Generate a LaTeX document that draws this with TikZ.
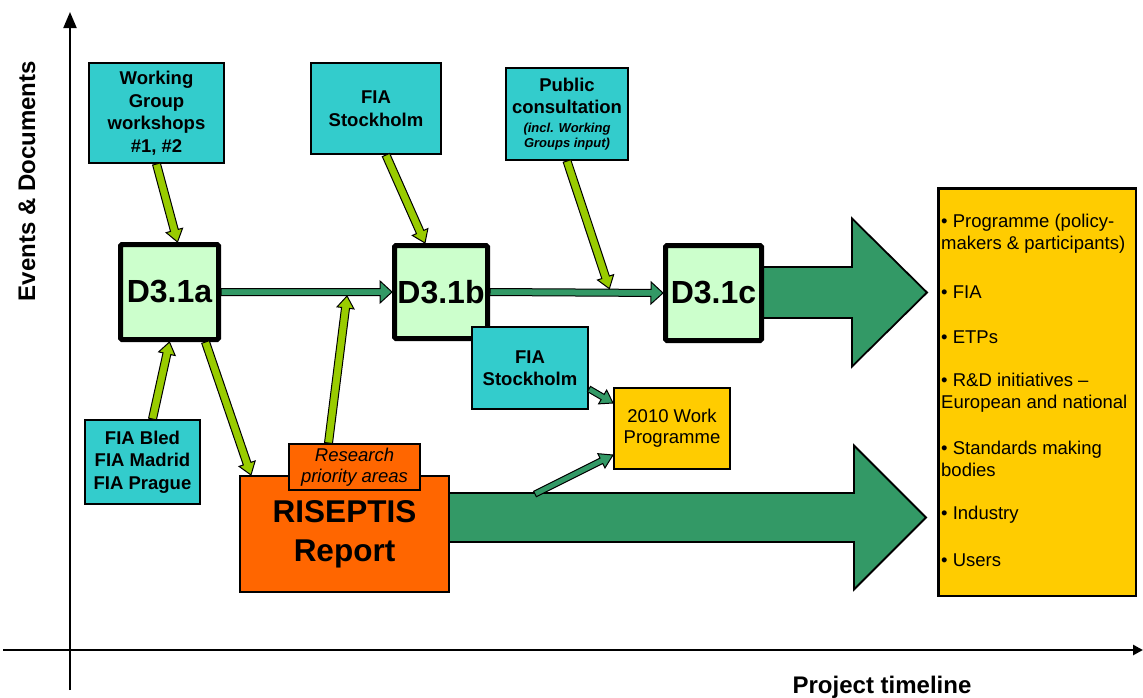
\documentclass[tikz,border=0pt]{standalone}
\usepackage{fontspec}
\setmainfont{Liberation Sans}
\usetikzlibrary{arrows.meta,calc}
\definecolor{cyanc}{HTML}{33CCCC}
\definecolor{lgreen}{HTML}{CCFFCC}
\definecolor{tealc}{HTML}{339966}
\definecolor{limec}{HTML}{99CC00}
\definecolor{orangec}{HTML}{FF6600}
\definecolor{yellowc}{HTML}{FFCC00}
\pgfdeclarelayer{bg}
\pgfsetlayers{bg,main}
% #1 style, #2 start, #3 end, #4 shaft half width, #5 head half width, #6 head length
\newcommand{\blockarrow}[6]{%
  \path (#2); \pgfgetlastxy{\bax}{\bay}%
  \path (#3); \pgfgetlastxy{\bbx}{\bby}%
  \pgfmathsetmacro{\baang}{atan2(\bby-\bay,\bbx-\bax)}%
  \pgfmathsetmacro{\balen}{veclen(\bbx-\bax,\bby-\bay)}%
  \draw[#1, shift={(\bax,\bay)}, rotate=\baang]
    (0pt,-#4pt) -- ({\balen pt-#6pt},-#4pt) -- ({\balen pt-#6pt},-#5pt)
    -- (\balen pt,0pt) -- ({\balen pt-#6pt},#5pt) -- ({\balen pt-#6pt},#4pt)
    -- (0pt,#4pt) -- cycle;
}
\tikzset{
  cyanbox/.style={draw=black, line width=2pt, fill=cyanc, align=center, inner sep=0pt,
    font=\fontsize{18.5}{22.5}\selectfont\bfseries},
  dbox/.style={draw=black, line width=5pt, fill=lgreen, inner sep=0pt, rounded corners=1.5pt,
    font=\fontsize{32}{36}\selectfont\bfseries},
  ybox/.style={draw=black, line width=2pt, fill=yellowc, align=center, inner sep=0pt,
    font=\fontsize{18.5}{21}\selectfont},
  obox/.style={draw=black, line width=2pt, fill=orangec, align=center, inner sep=0pt},
  limearrow/.style={draw=black, line width=1pt, fill=limec},
  tealarrow/.style={draw=black, line width=1pt, fill=tealc},
  bigarrow/.style={draw=black, line width=1.8pt, fill=tealc},
  item/.style={anchor=west, align=left, inner sep=0pt, font=\fontsize{18.5}{22}\selectfont},
  axislabel/.style={font=\fontsize{24}{28}\selectfont\bfseries, inner sep=0pt},
}
\begin{document}
\begin{tikzpicture}[x=1pt,y=-1pt]
\begin{pgfonlayer}{bg}
\fill[white] (0,0) rectangle (1143,697);
\end{pgfonlayer}
\useasboundingbox (0,0) rectangle (1143,697);

% axes
\coordinate (yb) at (70,690);
\coordinate (yt) at (70,12);
\coordinate (xl) at (3,650);
\coordinate (xr) at (1143,650);
\draw[line width=2pt, -{Triangle[length=16pt,width=13pt]}] (yb) -- (yt);
\draw[line width=2.5pt, -{Triangle[length=10pt,width=10pt]}] (xl) -- (xr);
\node[axislabel, rotate=90] (ylab) at (27,181) {Events \& Documents};
\node[axislabel, anchor=base] (xlab) at (882,693) {Project timeline};

% boxes
\node[cyanbox, minimum width=135pt, minimum height=100pt] (wg) at (156.5,113) {Working\\Group\\workshops\\\#1, \#2};
\node[cyanbox, minimum width=130pt, minimum height=91pt] (fs1) at (376,108.5) {FIA\\Stockholm};
\node[cyanbox, minimum width=122pt, minimum height=92pt] (pc) at (567,114)
  {Public\\consultation\\[-4pt]\fontsize{13}{15}\selectfont\bfseries\itshape (incl. Working\\[-7pt]\fontsize{13}{15}\selectfont\bfseries\itshape Groups input)};
\node[dbox, minimum width=98pt, minimum height=95pt] (d1) at (169.5,292) {D3.1a};
\node[dbox, minimum width=93pt, minimum height=93pt] (d2) at (441,292) {D3.1b};
\node[dbox, minimum width=96pt, minimum height=95pt] (d3) at (713.5,293) {D3.1c};
\node[cyanbox, minimum width=116pt, minimum height=82pt] (fs2) at (530,368) {FIA\\Stockholm};
\node[ybox, minimum width=116pt, minimum height=81pt] (wp) at (672,428.5) {2010 Work\\Programme};
\node[cyanbox, minimum width=115pt, minimum height=84pt] (fb) at (142.5,462) {FIA Bled\\FIA Madrid\\FIA Prague};
\node[obox, minimum width=209pt, minimum height=116pt, font=\fontsize{31.5}{39}\selectfont\bfseries] (rr) at (344.5,534) {RISEPTIS\\Report};
\node[obox, minimum width=131pt, minimum height=46pt, font=\fontsize{18.5}{21}\selectfont\itshape] (rp) at (354.5,467) {Research\\priority areas};
\node[ybox, line width=2.5pt, minimum width=197.5pt, minimum height=407.5pt] (rb) at (1037,392) {};

% list in the right box
\node[item] (l1) at (941,234) {\textbullet{} Programme (policy-\\makers \& participants)};
\node[item] (l2) at (941,292) {\textbullet{} FIA};
\node[item] (l3) at (941,337) {\textbullet{} ETPs};
\node[item] (l4) at (941,392.5) {\textbullet{} R\&D initiatives \textendash\\European and national};
\node[item] (l5) at (941,459) {\textbullet{} Standards making\\bodies};
\node[item] (l6) at (941,515) {\textbullet{} Industry};
\node[item] (l7) at (941,560) {\textbullet{} Users};

% big arrows (behind the boxes)
\coordinate (tip1) at (927,292.5);
\coordinate (tip2) at (926,517.5);
\begin{pgfonlayer}{bg}
\blockarrow{bigarrow}{d3.center |- tip1}{tip1}{25.5}{74}{75}
\blockarrow{bigarrow}{rr.center |- tip2}{tip2}{24.5}{72}{72}
\end{pgfonlayer}

% teal connectors
\blockarrow{tealarrow}{d1.east}{d2.west}{3.5}{11}{12}
\blockarrow{tealarrow}{d2.east}{d3.west}{3.5}{11}{12}
\coordinate (fs2out) at ($(fs2.south east)+(0,-21)$);
\coordinate (wpin1) at ($(wp.north west)+(0,16)$);
\blockarrow{tealarrow}{fs2out}{wpin1}{3}{8}{12}
\coordinate (bs) at (535,494);
\coordinate (wpin2) at ($(wp.south west)+(0,-15)$);
\blockarrow{tealarrow}{bs}{wpin2}{3}{8}{13}

% lime connectors
\coordinate (d1in) at ($(d1.north)+(8,0)$);
\blockarrow{limearrow}{wg.south}{d1in}{4}{8.5}{12}
\coordinate (fs1out) at ($(fs1.south)+(10,0)$);
\coordinate (d2in) at ($(d2.north)+(-16,0)$);
\blockarrow{limearrow}{fs1out}{d2in}{4}{8.5}{12}
\coordinate (pcin) at ($(d2.east)!0.69!(d3.west)+(0,-4)$);
\blockarrow{limearrow}{pc.south}{pcin}{4}{8.5}{12}
\coordinate (rpout) at ($(rp.north)+(-26,0)$);
\coordinate (rpin) at ($(d1.east)!0.737!(d2.west)+(0,4)$);
\blockarrow{limearrow}{rpout}{rpin}{4}{8.5}{12}
\coordinate (fbout) at ($(fb.north)+(10,0)$);
\blockarrow{limearrow}{fbout}{d1.south}{4}{8.5}{12}
\coordinate (d1out) at ($(d1.south)+(36,0)$);
\coordinate (rrin) at ($(rr.north west)+(12,0)$);
\blockarrow{limearrow}{d1out}{rrin}{4}{8.5}{12}
\end{tikzpicture}
\end{document}
